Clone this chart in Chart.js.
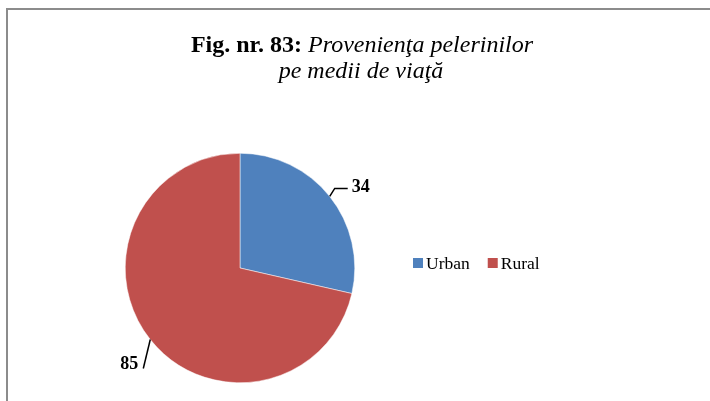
<!DOCTYPE html>
<html>
<head>
<meta charset="utf-8">
<script src="https://cdn.jsdelivr.net/npm/chart.js@4/dist/chart.umd.min.js"></script>
<style>
  html, body { margin: 0; padding: 0; background: #fff; }
  #wrap { width: 710px; height: 401px; position: relative; }
</style>
</head>
<body>
<div id="wrap"><canvas id="pie" width="710" height="401"></canvas></div>
<script>
const categories = ['Urban', 'Rural'];
const values = [34, 85];
const colors = ['#4F81BD', '#C0504D'];

document.addEventListener('DOMContentLoaded', () => {
    const serif = '"Liberation Serif", "Times New Roman", serif';

    // chenarul gri (sus + stanga)
    const frame = {
        id: 'frame',
        beforeDraw(chart) {
            const c = chart.ctx;
            c.save();
            c.strokeStyle = '#8c8c8c';
            c.lineWidth = 2;
            c.beginPath();
            c.moveTo(7, 401);
            c.lineTo(7, 9);
            c.lineTo(710, 9);
            c.stroke();
            c.restore();
        }
    };

    // titlul: partea bold + partea italica
    const titlu = {
        id: 'titlu',
        afterDraw(chart) {
            const c = chart.ctx;
            c.save();
            c.fillStyle = '#000';
            c.textBaseline = 'alphabetic';
            const p1 = 'Fig. nr. 83: ';
            const p2 = 'Provenienţa pelerinilor';
            c.font = 'bold 24px ' + serif;
            const w1 = c.measureText(p1).width;
            c.font = 'italic 24px ' + serif;
            const w2 = c.measureText(p2).width;
            let x = 362 - (w1 + w2) / 2;
            c.textAlign = 'left';
            c.font = 'bold 24px ' + serif;
            c.fillText(p1, x, 52);
            c.font = 'italic 24px ' + serif;
            c.fillText(p2, x + w1, 52);
            c.textAlign = 'center';
            c.fillText('pe medii de viaţă', 361, 78);
            c.restore();
        }
    };

    // etichete cu linii de legatura
    const etichete = {
        id: 'etichete',
        afterDatasetsDraw(chart) {
            const c = chart.ctx;
            const meta = chart.getDatasetMeta(0);
            c.save();
            c.strokeStyle = '#000';
            c.lineWidth = 1.5;
            c.fillStyle = '#000';
            c.font = 'bold 18px ' + serif;
            c.textBaseline = 'alphabetic';
            meta.data.forEach((arc, i) => {
                const mid = (arc.startAngle + arc.endAngle) / 2;
                const ex = arc.x + Math.cos(mid) * arc.outerRadius;
                const ey = arc.y + Math.sin(mid) * arc.outerRadius;
                const txt = String(chart.data.datasets[0].data[i]);
                c.beginPath();
                c.moveTo(ex, ey);
                if (Math.cos(mid) >= 0) {
                    c.lineTo(ex + 5, ey - 8);
                    c.lineTo(ex + 18, ey - 8);
                    c.stroke();
                    c.textAlign = 'left';
                    c.fillText(txt, ex + 22, ey - 4);
                } else {
                    c.lineTo(ex - 7, ey + 29);
                    c.stroke();
                    c.textAlign = 'right';
                    c.fillText(txt, ex - 12, ey + 29);
                }
            });
            c.restore();
        }
    };

    // legenda din dreapta
    const legenda = {
        id: 'legenda',
        afterDraw(chart) {
            const c = chart.ctx;
            const ds = chart.data.datasets[0];
            c.save();
            c.font = '17.5px ' + serif;
            c.textBaseline = 'alphabetic';
            c.textAlign = 'left';
            let x = 413;
            chart.data.labels.forEach((lab, i) => {
                c.fillStyle = ds.backgroundColor[i];
                c.fillRect(x, 258, 10, 10);
                c.fillStyle = '#000';
                c.fillText(lab, x + 13, 269);
                x += 13 + c.measureText(lab).width + 18;
            });
            c.restore();
        }
    };

    const ctx = document.getElementById('pie').getContext('2d');
    new Chart(ctx, {
        type: 'pie',
        data: {
            labels: categories,
            datasets: [{
                data: values,
                backgroundColor: colors,
                borderColor: '#ffffff',
                borderWidth: 0.5
            }]
        },
        options: {
            responsive: false,
            animation: false,
            layout: {
                padding: { left: 125, right: 355, top: 153, bottom: 18 }
            },
            plugins: {
                legend: { display: false },
                title: { display: false },
                tooltip: { enabled: false }
            }
        },
        plugins: [frame, titlu, etichete, legenda]
    });
});
</script>
</body>
</html>
